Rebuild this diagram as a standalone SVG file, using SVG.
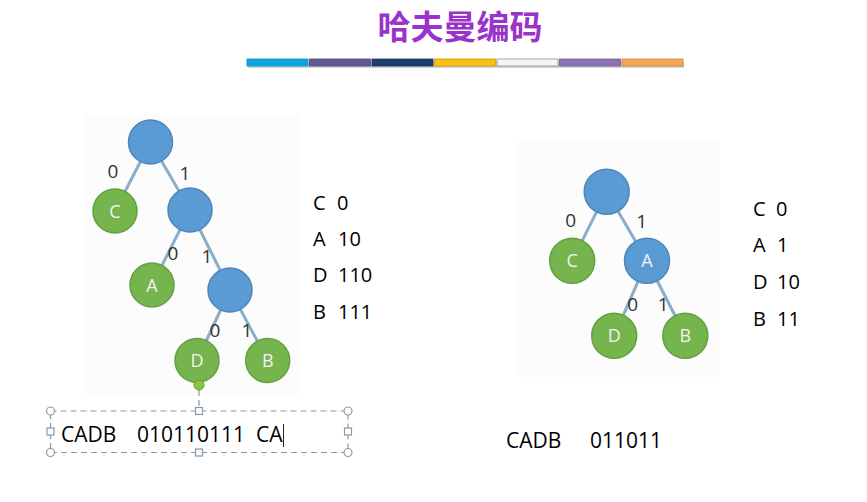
<svg xmlns="http://www.w3.org/2000/svg" width="867" height="502" viewBox="0 0 867 502">
<style>
.bg{fill:#fcfcfc}
.edge{stroke:#8badc9;stroke-width:3;fill:none}
.blue{fill:#5b9bd5;stroke:#4f86b8;stroke-width:1.5}
.green{fill:#76b54d;stroke:#63a03f;stroke-width:1.5}
.nl{font-family:"Open Sans","Liberation Sans",sans-serif;font-size:18px;fill:#f2f2f2;text-anchor:middle}
.el{font-family:"Open Sans","Liberation Sans",sans-serif;font-size:19px;fill:#333;text-anchor:middle}
.code{font-family:"Open Sans","Liberation Sans",sans-serif;font-size:20px;fill:#000}
.code2{font-family:"Open Sans","Liberation Sans",sans-serif;font-size:20px;fill:#000}
.big{font-family:"Open Sans","Liberation Sans",sans-serif;font-size:21px;fill:#000}
.sel{stroke:#8a99a8;stroke-width:1.2;fill:none;stroke-dasharray:6 4}
.hc{fill:#fff;stroke:#8a99a8;stroke-width:1.2}
.bar{stroke-width:0.8}
</style>
<rect width="867" height="502" fill="#ffffff"/>

<g id="title">
<text x="460" y="39" font-family="'Noto Sans CJK SC','Noto Sans',sans-serif" font-size="33" font-weight="bold" fill="#9a33c9" text-anchor="middle">哈夫曼编码</text>
<g id="colorbar">
<rect x="248" y="61" width="436" height="7" fill="#9a9a9a" opacity="0.45"/>
<rect class="bar" x="247" y="59" width="61" height="7" fill="#0aa6e1" stroke="#0a8cc0"/>
<rect class="bar" x="309.5" y="59" width="61" height="7" fill="#605a92" stroke="#4d4878"/>
<rect class="bar" x="372" y="59" width="61" height="7" fill="#1d3f6f" stroke="#17335a"/>
<rect class="bar" x="434.5" y="59" width="61" height="7" fill="#f7c012" stroke="#c99c10"/>
<rect class="bar" x="497" y="59" width="61" height="7" fill="#f4f4f4" stroke="#8e8e8e"/>
<rect class="bar" x="559.5" y="59" width="61" height="7" fill="#8a74b6" stroke="#6f5e95"/>
<rect class="bar" x="622" y="59" width="61" height="7" fill="#f6a654" stroke="#c98540"/>
</g>
</g>

<rect class="bg" x="84" y="114" width="216" height="282"/>
<rect class="bg" x="516" y="140" width="204" height="237"/>

<g id="connectors">
<line class="edge" x1="150.5" y1="142" x2="115" y2="211"/>
<line class="edge" x1="150.5" y1="142" x2="190" y2="210"/>
<line class="edge" x1="190" y1="210" x2="152" y2="285"/>
<line class="edge" x1="190" y1="210" x2="230" y2="290"/>
<line class="edge" x1="230" y1="290" x2="197" y2="360.5"/>
<line class="edge" x1="230" y1="290" x2="267.7" y2="360.5"/>
<line class="edge" x1="606.7" y1="191.7" x2="572.2" y2="260.8"/>
<line class="edge" x1="606.7" y1="191.7" x2="647" y2="260.8"/>
<line class="edge" x1="647" y1="260.8" x2="614.2" y2="335.8"/>
<line class="edge" x1="647" y1="260.8" x2="685.3" y2="335.8"/>
<g id="edge-labels">
<text class="el" x="113" y="178">0</text>
<text class="el" x="185" y="180">1</text>
<text class="el" x="173" y="260">0</text>
<text class="el" x="207" y="263">1</text>
<text class="el" x="215" y="336.5">0</text>
<text class="el" x="247" y="336.5">1</text>
<text class="el" x="570.7" y="226.5">0</text>
<text class="el" x="641.7" y="228">1</text>
<text class="el" x="632.7" y="311">0</text>
<text class="el" x="663.3" y="311">1</text>
</g>
</g>

<g id="L_root"><circle class="blue" cx="150.5" cy="142" r="22"/></g>
<g id="L_C"><circle class="green" cx="115" cy="211" r="22"/><text class="nl" x="115" y="217.5">C</text></g>
<g id="L_n1"><circle class="blue" cx="190" cy="210" r="22"/></g>
<g id="L_A"><circle class="green" cx="152" cy="285" r="22"/><text class="nl" x="152" y="291.5">A</text></g>
<g id="L_n2"><circle class="blue" cx="230" cy="290" r="22"/></g>
<g id="L_D"><circle class="green" cx="197" cy="360.5" r="22"/><text class="nl" x="197" y="367">D</text></g>
<g id="L_B"><circle class="green" cx="267.7" cy="360.5" r="22"/><text class="nl" x="267.7" y="367">B</text></g>

<g id="R_root"><circle class="blue" cx="606.7" cy="191.7" r="22.5"/></g>
<g id="R_C"><circle class="green" cx="572.2" cy="260.8" r="22.5"/><text class="nl" x="572.2" y="267.3">C</text></g>
<g id="R_A"><circle class="blue" cx="647" cy="260.8" r="22.5"/><text class="nl" x="647" y="267.3">A</text></g>
<g id="R_D"><circle class="green" cx="614.2" cy="335.8" r="22.5"/><text class="nl" x="614.2" y="342.3">D</text></g>
<g id="R_B"><circle class="green" cx="685.3" cy="335.8" r="22.5"/><text class="nl" x="685.3" y="342.3">B</text></g>

<g id="left-codes">
<text class="code" x="313" y="210">C</text><text class="code" x="337" y="210">0</text>
<text class="code" x="313" y="246">A</text><text class="code" x="338" y="246">10</text>
<text class="code" x="313" y="282">D</text><text class="code" x="338" y="282">110</text>
<text class="code" x="313" y="318.5">B</text><text class="code" x="338" y="318.5">111</text>
</g>

<g id="right-codes">
<text class="code2" x="753" y="216">C</text><text class="code2" x="776" y="216">0</text>
<text class="code2" x="753" y="252">A</text><text class="code2" x="777" y="252">1</text>
<text class="code2" x="753" y="289">D</text><text class="code2" x="777" y="289">10</text>
<text class="code2" x="753" y="325.5">B</text><text class="code2" x="777" y="325.5">11</text>
</g>

<g id="textbox-left">
<line class="sel" x1="199" y1="390" x2="199" y2="407"/>
<circle cx="199" cy="385" r="5" fill="#8cc63f" stroke="#6a9a2e" stroke-width="1"/>
<rect class="sel" x="50.5" y="411" width="297.5" height="41.5"/>
<circle class="hc" cx="50.5" cy="411" r="4"/>
<circle class="hc" cx="348" cy="411" r="4"/>
<circle class="hc" cx="50.5" cy="452.5" r="4"/>
<circle class="hc" cx="348" cy="452.5" r="4"/>
<rect class="hc" x="195.5" y="407.5" width="7" height="7"/>
<rect class="hc" x="195.5" y="449" width="7" height="7"/>
<rect class="hc" x="47" y="428" width="7" height="7"/>
<rect class="hc" x="344.5" y="428" width="7" height="7"/>
<text class="big" x="61" y="442">CADB</text>
<text class="big" x="137" y="442">010110111</text>
<text class="big" x="256" y="442">CA</text>
<line x1="283.5" y1="424" x2="283.5" y2="447" stroke="#222" stroke-width="1"/>
</g>

<g id="text-right">
<text class="big" x="506" y="448">CADB</text>
<text class="big" x="590" y="448">011011</text>
</g>
</svg>
